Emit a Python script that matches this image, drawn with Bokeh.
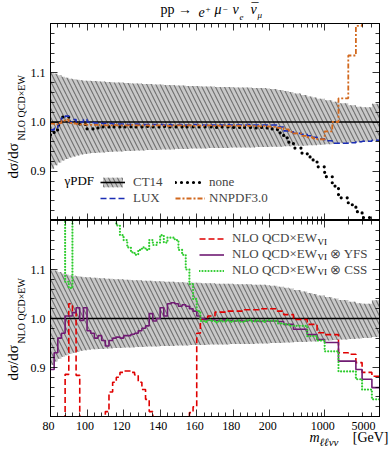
import math
from bokeh.plotting import figure
from bokeh.models import (FixedTicker, LinearAxis, Label, Legend, LegendItem,
                          Range1d, NumeralTickFormatter)
from bokeh.layouts import column, row
from bokeh.embed import file_html
from bokeh.resources import INLINE

# ---------------- data ----------------
bin_edges = [80, 82, 84, 86, 88, 90, 92, 94, 96, 98, 100, 102, 104, 106, 108, 110,
             112, 114, 116, 118, 120, 122, 124, 126, 128, 130, 132, 134, 136, 138,
             140, 142, 144, 146, 148, 150, 152, 154, 156, 158, 160, 162, 164, 166,
             168, 170, 172, 174, 176, 178, 180, 182, 184, 186, 188, 190, 192, 194,
             196, 198, 200, 250, 300, 350, 400, 500, 600, 700, 800, 1000, 1250,
             1500, 2000, 2500, 3000, 4000, 5000]

ct14_up = [1.100, 1.098, 1.095, 1.092, 1.090, 1.088, 1.087, 1.086, 1.085, 1.084,
           1.084, 1.083, 1.083, 1.082, 1.082, 1.081, 1.081, 1.080, 1.080, 1.080,
           1.079, 1.079, 1.078, 1.078, 1.078, 1.077, 1.077, 1.077, 1.076, 1.076,
           1.076, 1.075, 1.075, 1.075, 1.074, 1.074, 1.074, 1.073, 1.073, 1.073,
           1.073, 1.072, 1.072, 1.072, 1.072, 1.071, 1.071, 1.071, 1.071, 1.071,
           1.070, 1.070, 1.070, 1.070, 1.070, 1.069, 1.069, 1.069, 1.069, 1.068,
           1.067, 1.065, 1.063, 1.061, 1.058, 1.055, 1.052, 1.050, 1.047, 1.044,
           1.041, 1.038, 1.034, 1.031, 1.030, 1.037]
ct14_dn = [0.905, 0.912, 0.918, 0.922, 0.925, 0.928, 0.930, 0.932, 0.934, 0.935,
           0.936, 0.937, 0.937, 0.938, 0.938, 0.939, 0.939, 0.940, 0.940, 0.940,
           0.941, 0.941, 0.941, 0.942, 0.942, 0.942, 0.943, 0.943, 0.943, 0.943,
           0.944, 0.944, 0.944, 0.944, 0.945, 0.945, 0.945, 0.945, 0.946, 0.946,
           0.946, 0.946, 0.946, 0.947, 0.947, 0.947, 0.947, 0.947, 0.947, 0.948,
           0.948, 0.948, 0.948, 0.948, 0.948, 0.948, 0.949, 0.949, 0.949, 0.949,
           0.950, 0.950, 0.951, 0.951, 0.952, 0.952, 0.953, 0.953, 0.954, 0.955,
           0.956, 0.957, 0.958, 0.959, 0.960, 0.962]
ct14_central = 1.0

gpdf_none = [0.974, 0.984, 0.994, 1.010, 1.010, 1.000, 1.000, 0.996, 0.995, 0.995,
             0.986, 0.986, 0.987, 0.988, 0.990, 0.990, 0.989, 0.990, 0.990, 0.991,
             0.990, 0.990, 0.991, 0.990, 0.990, 0.990, 0.991, 0.990, 0.990, 0.990,
             0.990, 0.991, 0.990, 0.990, 0.990, 0.990, 0.991, 0.990, 0.990, 0.990,
             0.990, 0.990, 0.990, 0.990, 0.990, 0.989, 0.990, 0.990, 0.990, 0.989,
             0.989, 0.989, 0.990, 0.989, 0.989, 0.989, 0.988, 0.989, 0.988, 0.988,
             0.986, 0.978, 0.968, 0.958, 0.947, 0.937, 0.929, 0.923, 0.909, 0.889,
             0.870, 0.846, 0.832, 0.818, 0.806, 0.790]
gpdf_lux = [0.984, 0.987, 0.995, 1.008, 1.012, 1.000, 1.005, 1.000, 1.000, 1.005,
            1.000, 0.999, 0.998, 0.998, 0.997, 0.997, 0.997, 0.996, 0.996, 0.996,
            0.996, 0.995, 0.995, 0.996, 0.995, 0.995, 0.995, 0.994, 0.995, 0.995,
            0.995, 0.994, 0.995, 0.994, 0.994, 0.995, 0.994, 0.994, 0.994, 0.995,
            0.994, 0.994, 0.994, 0.995, 0.994, 0.994, 0.994, 0.994, 0.995, 0.994,
            0.994, 0.994, 0.994, 0.994, 0.995, 0.994, 0.994, 0.994, 0.994, 0.994,
            0.994, 0.990, 0.982, 0.980, 0.977, 0.975, 0.972, 0.969, 0.966, 0.962,
            0.957, 0.957, 0.958, 0.960, 0.961, 0.963]
gpdf_nnpdf = [0.997, 0.995, 0.998, 1.003, 1.005, 0.998, 0.997, 0.996, 0.995, 0.995,
              0.994, 0.994, 0.994, 0.993, 0.994, 0.993, 0.993, 0.994, 0.993, 0.993,
              0.993, 0.993, 0.994, 0.993, 0.993, 0.993, 0.993, 0.992, 0.993, 0.993,
              0.993, 0.993, 0.992, 0.993, 0.993, 0.993, 0.992, 0.993, 0.993, 0.992,
              0.993, 0.992, 0.993, 0.993, 0.992, 0.993, 0.992, 0.993, 0.992, 0.992,
              0.993, 0.992, 0.992, 0.993, 0.992, 0.992, 0.992, 0.991, 0.992, 0.991,
              0.990, 0.988, 0.985, 0.980, 0.977, 0.972, 0.969, 0.967, 0.965, 0.981,
              1.000, 1.048, 1.135, 1.195, 1.300, 1.350]

ew_vi = [0.600, 0.600, 0.600, 0.600, 0.886, 1.030, 1.015, 0.884, 0.600, 0.600,
         0.600, 0.600, 0.600, 0.600, 0.600, 0.810, 0.850, 0.870, 0.880, 0.890,
         0.893, 0.893, 0.890, 0.885, 0.870, 0.855, 0.835, 0.810, 0.600, 0.600,
         0.600, 0.600, 0.600, 0.600, 0.600, 0.600, 0.600, 0.600, 0.808, 0.820,
         0.970, 0.998, 0.998, 1.005, 1.005, 1.013, 1.013, 1.013, 1.015, 1.015,
         1.015, 1.015, 1.015, 1.018, 1.018, 1.018, 1.018, 1.020, 1.020, 1.020,
         1.020, 1.015, 1.008, 1.008, 0.998, 0.998, 0.988, 0.988, 0.971, 0.967,
         0.967, 0.930, 0.927, 0.910, 0.890, 0.882]
ew_vi_yfs = [0.896, 0.930, 0.960, 0.970, 1.005, 1.005, 1.012, 1.022, 0.996, 1.022,
             0.975, 0.970, 0.960, 0.965, 0.955, 0.944, 0.955, 0.960, 0.962, 0.960,
             0.965, 0.965, 0.968, 0.970, 0.975, 0.980, 0.985, 1.010, 0.995, 1.000,
             1.022, 1.005, 1.030, 1.032, 1.030, 1.025, 1.028, 1.025, 1.020, 1.015,
             1.005, 1.000, 0.998, 0.997, 0.997, 0.996, 0.996, 0.997, 0.996, 0.996,
             0.995, 0.996, 0.995, 0.995, 0.996, 0.995, 0.995, 0.994, 0.995, 0.995,
             0.995, 0.994, 0.988, 0.988, 0.978, 0.978, 0.967, 0.967, 0.957, 0.951,
             0.951, 0.913, 0.913, 0.896, 0.876, 0.859]
ew_vi_css = [1.400, 1.400, 1.400, 1.400, 1.075, 1.062, 1.400, 1.400, 1.400, 1.400,
             1.400, 1.400, 1.400, 1.400, 1.400, 1.400, 1.400, 1.400, 1.190, 1.170,
             1.160, 1.145, 1.135, 1.130, 1.140, 1.145, 1.140, 1.160, 1.150, 1.155,
             1.170, 1.155, 1.165, 1.165, 1.160, 1.140, 1.130, 1.100, 1.070, 1.040,
             1.015, 0.995, 0.993, 0.997, 0.995, 0.992, 0.996, 0.994, 0.997, 0.993,
             0.995, 0.996, 0.993, 0.995, 0.997, 0.994, 0.996, 0.995, 0.993, 0.996,
             0.995, 0.990, 0.988, 0.985, 0.985, 0.985, 0.964, 0.964, 0.955, 0.933,
             0.933, 0.892, 0.892, 0.876, 0.855, 0.835]

x_major = [80, 100, 120, 140, 160, 180, 200, 1000, 5000]
x_major_labels = ["80", "100", "120", "140", "160", "180", "200", "1000", "5000"]
x_minor = [84, 88, 92, 96, 104, 108, 112, 116, 124, 128, 132, 136, 144, 148, 152,
           156, 164, 168, 172, 176, 184, 188, 192, 196, 300, 400, 500, 600, 700,
           800, 900, 2000, 3000, 4000]
y_major = [0.9, 1.0, 1.1]
y_minor = [0.82, 0.84, 0.86, 0.88, 0.92, 0.94, 0.96, 0.98, 1.02, 1.04, 1.06, 1.08,
           1.12, 1.14, 1.16, 1.18]

FONT = "Liberation Serif"

# layout (pixels)
FRAME_W = 329
LEFT_TXT_W = 27
AXIS_W = 21
RIGHT_B = 13
TOTAL_W = LEFT_TXT_W + AXIS_W + FRAME_W + RIGHT_B
TITLE_H = 22
BOTTOM_H = 34


# piecewise axis: linear 80-200, logarithmic above (factor 5 per 30 units)
def axis_u(m):
    if m <= 200:
        return float(m)
    return 200.0 + 30.0 * math.log(m / 200.0) / math.log(5.0)


def steps(values):
    xs, ys = [], []
    for i, v in enumerate(values):
        xs += [axis_u(bin_edges[i]), axis_u(bin_edges[i + 1])]
        ys += [v, v]
    return xs, ys


X0, X1 = axis_u(bin_edges[0]), axis_u(bin_edges[-1])
x_ticks_u = [axis_u(m) for m in x_major]
x_minor_u = [axis_u(m) for m in x_minor]


def tick_only_axes(p, side, majors, minors):
    # axes that draw inward ticks only (no label texts)
    for ticks, length in ((majors, 7), (minors, 4)):
        ax = LinearAxis(ticker=FixedTicker(ticks=[], minor_ticks=ticks))
        ax.axis_line_color = "black"
        ax.axis_line_width = 1
        ax.minor_tick_line_color = "black"
        ax.minor_tick_line_width = 0.8
        ax.minor_tick_in = length
        ax.minor_tick_out = 0
        ax.major_tick_in = 0
        ax.major_tick_out = 0
        ax.major_label_standoff = 0
        p.add_layout(ax, side)


def make_fig(top):
    p = figure(frame_width=FRAME_W, frame_height=197 if top else 196,
               x_range=Range1d(X0, X1), y_range=Range1d(0.8, 1.2),
               x_axis_location=None, y_axis_location=None,
               output_backend="svg", toolbar_location=None,
               min_border_left=AXIS_W, min_border_right=RIGHT_B,
               min_border_top=1 if top else 0,
               min_border_bottom=0 if top else 1)
    p.grid.visible = False
    p.outline_line_color = "black"
    p.outline_line_width = 1
    p.background_fill_color = "white"
    p.border_fill_color = "white"
    ya = LinearAxis(ticker=FixedTicker(ticks=y_major, minor_ticks=y_minor),
                    formatter=NumeralTickFormatter(format="0.0"))
    ya.axis_line_color = "black"
    ya.major_tick_line_color = "black"
    ya.minor_tick_line_color = "black"
    ya.major_tick_line_width = 0.8
    ya.minor_tick_line_width = 0.8
    ya.major_tick_in = 7
    ya.major_tick_out = 0
    ya.minor_tick_in = 4
    ya.minor_tick_out = 0
    ya.major_label_text_font = FONT
    ya.major_label_text_font_size = "12px"
    ya.major_label_text_color = "black"
    ya.major_label_standoff = 5
    p.add_layout(ya, "left")
    tick_only_axes(p, "right", y_major, y_minor)
    tick_only_axes(p, "above", x_ticks_u, x_minor_u)
    tick_only_axes(p, "below", x_ticks_u, x_minor_u)
    return p


def text_fig(w, h, x_range=None):
    p = figure(width=w, height=h, x_range=x_range or Range1d(0, 1),
               y_range=Range1d(0, 1), x_axis_location=None, y_axis_location=None,
               output_backend="svg", toolbar_location=None, min_border=0,
               min_border_left=0, min_border_right=0, min_border_top=0,
               min_border_bottom=0)
    p.grid.visible = False
    p.outline_line_color = None
    p.background_fill_color = "white"
    p.border_fill_color = "white"
    return p


def band_and_line(p):
    bx, bup = steps(ct14_up)
    _, bdn = steps(ct14_dn)
    band = p.varea(x=bx, y1=bdn, y2=bup, fill_color="#c8c8c8", fill_alpha=1.0,
                   hatch_pattern="left_diagonal_line", hatch_color="#707070",
                   hatch_weight=1.1, hatch_scale=9)
    cl = p.line(x=[X0, X1], y=[ct14_central, ct14_central], line_color="black",
                line_width=1.6)
    return band, cl


def rel_label(p, text, x, y, size, **kw):
    kw.setdefault("x_units", "screen")
    lab = Label(x=x, y=y, y_units="screen", text=text, text_font=FONT,
                text_font_size=size, text_color="black", **kw)
    p.add_layout(lab)
    return lab


# ---------------- title ----------------
pt = text_fig(TOTAL_W, TITLE_H)
IT = dict(text_font_style="italic")
rel_label(pt, "pp →", 160, 6, "14px")
rel_label(pt, "e", 198, 6, "14px", **IT)
rel_label(pt, "+", 205, 11, "9px")
rel_label(pt, "μ", 214, 6, "14px", **IT)
rel_label(pt, "−", 222, 11, "9px")
rel_label(pt, "ν", 232, 6, "14px", **IT)
rel_label(pt, "e", 239, 3, "9px", **IT)
rel_label(pt, "ν", 250, 6, "14px", **IT)
rel_label(pt, "¯", 251, 7, "14px")
rel_label(pt, "μ", 257, 3, "9px", **IT)

# ---------------- y labels ----------------
py = text_fig(LEFT_TXT_W, 198 + 197)
rel_label(py, "dσ/dσ", 20, 239, "15px", angle=math.pi / 2)
rel_label(py, "NLO QCD×EW", 26, 277, "10px", angle=math.pi / 2)
rel_label(py, "dσ/dσ", 20, 37, "15px", angle=math.pi / 2)
rel_label(py, "NLO QCD×EW", 26, 74, "10px", angle=math.pi / 2)

# ---------------- top panel ----------------
p1 = make_fig(True)
band1, line1 = band_and_line(p1)
xs, ys = steps(gpdf_none)
r_none = p1.line(xs, ys, line_color="black", line_width=3.2, line_dash="0 6",
                 line_cap="round")
xs, ys = steps(gpdf_lux)
r_lux = p1.line(xs, ys, line_color="#1b2db5", line_width=1.6, line_dash="6 3")
xs, ys = steps(gpdf_nnpdf)
r_nn = p1.line(xs, ys, line_color="#d2691e", line_width=1.8, line_dash="5 2 2 2")

leg_common = dict(background_fill_alpha=0, border_line_alpha=0, padding=0, margin=0,
                  spacing=0, label_text_font=FONT, label_text_font_size="13px",
                  glyph_height=12, label_height=15)
p1.add_layout(Legend(items=[LegendItem(label="CT14", renderers=[band1, line1]),
                            LegendItem(label="LUX", renderers=[r_lux])],
                     location=(50, 14), glyph_width=25, label_standoff=8,
                     **leg_common))
p1.add_layout(Legend(items=[LegendItem(label="none", renderers=[r_none]),
                            LegendItem(label="NNPDF3.0", renderers=[r_nn])],
                     location=(125, 14), glyph_width=30, label_standoff=4,
                     **leg_common))
rel_label(p1, "γPDF", 14, 33, "13px")

# ---------------- bottom panel ----------------
p2 = make_fig(False)
band_and_line(p2)
xs, ys = steps(ew_vi)
r_red = p2.line(xs, ys, line_color="#e00000", line_width=1.6, line_dash="6 3")
xs, ys = steps(ew_vi_yfs)
r_pur = p2.line(xs, ys, line_color="#701b73", line_width=1.6)
xs, ys = steps(ew_vi_css)
r_grn = p2.line(xs, ys, line_color="#2ecc2e", line_width=2.2, line_dash="0 3",
                line_cap="round")

sp = "\u00a0\u00a0\u00a0\u00a0"
p2.add_layout(Legend(items=[LegendItem(label="NLO QCD×EW", renderers=[r_red]),
                            LegendItem(label="NLO QCD×EW" + sp + "⊗ YFS", renderers=[r_pur]),
                            LegendItem(label="NLO QCD×EW" + sp + "⊗ CSS", renderers=[r_grn])],
                     location=(149, 138), glyph_width=25, label_standoff=8,
                     background_fill_alpha=0, border_line_alpha=0, padding=0, margin=0,
                     spacing=0, label_text_font=FONT, label_text_font_size="13px",
                     glyph_height=15, label_height=15))
for yy in (170, 155, 140):
    rel_label(p2, "VI", 267, yy, "9px")

# ---------------- x tick labels and x label ----------------
px_per_u = FRAME_W / (X1 - X0)
bx0 = X0 - (LEFT_TXT_W + AXIS_W) / px_per_u
bx1 = X1 + RIGHT_B / px_per_u
pb = text_fig(TOTAL_W, BOTTOM_H, x_range=Range1d(bx0, bx1))
for t, lab in zip(x_ticks_u, x_major_labels):
    if t < X1:
        rel_label(pb, lab, t, 26, "12px", x_units="data", text_align="center",
                  text_baseline="middle")
    else:
        rel_label(pb, lab, t, 26, "12px", x_units="data", text_align="right",
                  text_baseline="middle", x_offset=-2)
rel_label(pb, "[GeV]", 388, 7, "14px", text_align="right")
rel_label(pb, "ℓℓνν", 319, 4, "11px", text_align="left", text_font_style="italic")
rel_label(pb, "m", 319, 7, "14px", text_align="right", text_font_style="italic")

layout = column(pt, row(py, column(p1, p2)), pb)
open("out.html", "w").write(file_html(layout, INLINE))
